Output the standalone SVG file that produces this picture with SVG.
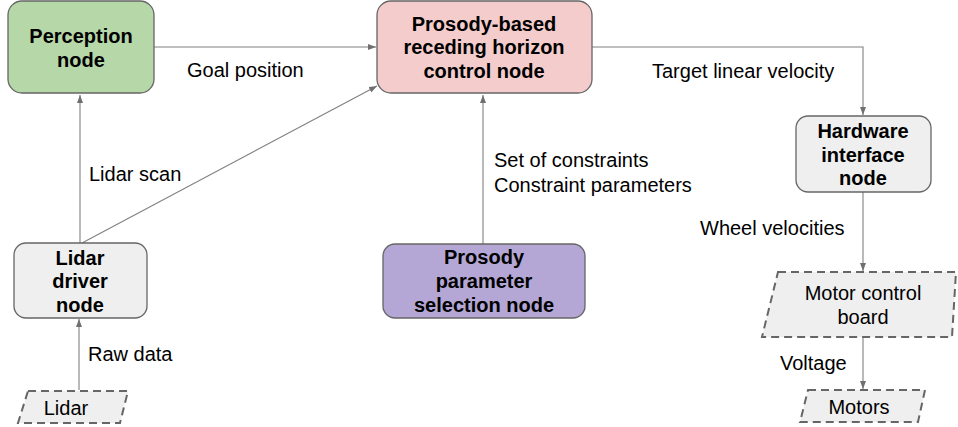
<svg xmlns="http://www.w3.org/2000/svg" width="958" height="427" viewBox="0 0 958 427">
<style>
.node{stroke:#666;stroke-width:1.3}
.io{fill:#efefef;stroke:#666;stroke-width:2;stroke-dasharray:8 5}
.t{font-family:"Liberation Sans",Arial,sans-serif;font-size:20px;fill:#000}
.b{font-weight:bold;text-anchor:middle}
.c{text-anchor:middle}
.e{fill:none;stroke:#808080;stroke-width:1.1}
</style>
<defs>
<marker id="ah" viewBox="0 0 8 6" refX="8" refY="3" markerWidth="8" markerHeight="6" markerUnits="userSpaceOnUse" orient="auto">
<path d="M0,0 L8,3 L0,6 Z" fill="#707070"/>
</marker>
</defs>
<rect width="958" height="427" fill="#fff"/>
<g id="connectors">
<path class="e" d="M154,47 H376" marker-end="url(#ah)"/>
<path class="e" d="M592,47 H863 V115" marker-end="url(#ah)"/>
<path class="e" d="M80,243 V95" marker-end="url(#ah)"/>
<path class="e" d="M82,243 L377,86" marker-end="url(#ah)"/>
<path class="e" d="M483,244 V95" marker-end="url(#ah)"/>
<path class="e" d="M863,192 V271" marker-end="url(#ah)"/>
<path class="e" d="M863,337 V389" marker-end="url(#ah)"/>
<path class="e" d="M79,390 V319" marker-end="url(#ah)"/>
<text class="t" x="187" y="77">Goal position</text>
<text class="t" x="652" y="78">Target linear velocity</text>
<text class="t" x="89" y="181">Lidar scan</text>
<text class="t" x="494" y="167">Set of constraints</text>
<text class="t" x="494" y="192">Constraint parameters</text>
<text class="t" x="700" y="235">Wheel velocities</text>
<text class="t" x="88" y="361">Raw data</text>
<text class="t" x="780" y="370">Voltage</text>
</g>
<g id="perception">
<rect class="node" x="8" y="1" width="146" height="92" rx="14" fill="#b6d7a8"/>
<text class="t b" x="81" y="43">Perception</text>
<text class="t b" x="81" y="67">node</text>
</g>
<g id="control">
<rect class="node" x="377" y="1" width="215" height="92" rx="14" fill="#f4cccc"/>
<text class="t b" x="484" y="31">Prosody-based</text>
<text class="t b" x="484" y="54">receding horizon</text>
<text class="t b" x="484" y="78">control node</text>
</g>
<g id="hardware">
<rect class="node" x="796" y="116" width="135" height="76" rx="12" fill="#efefef"/>
<text class="t b" x="863" y="138">Hardware</text>
<text class="t b" x="863" y="162">interface</text>
<text class="t b" x="863" y="185">node</text>
</g>
<g id="lidar-driver">
<rect class="node" x="14" y="243" width="133" height="75" rx="12" fill="#efefef"/>
<text class="t b" x="80" y="265">Lidar</text>
<text class="t b" x="80" y="288">driver</text>
<text class="t b" x="80" y="312">node</text>
</g>
<g id="prosody-param">
<rect class="node" x="383" y="244" width="202" height="74" rx="12" fill="#b4a7d6"/>
<text class="t b" x="484" y="264">Prosody</text>
<text class="t b" x="484" y="288">parameter</text>
<text class="t b" x="484" y="312">selection node</text>
</g>
<g id="lidar">
<polygon class="io" points="28,391 128,391 120,423 18,423"/>
<text class="t c" x="66" y="415">Lidar</text>
</g>
<g id="motor-board">
<polygon class="io" points="778,272 956,272 952,337 762,337"/>
<text class="t c" x="863" y="300">Motor control</text>
<text class="t c" x="863" y="324">board</text>
</g>
<g id="motors">
<polygon class="io" points="808,390 925,390 918,422 800,422"/>
<text class="t c" x="859" y="414">Motors</text>
</g>
</svg>
